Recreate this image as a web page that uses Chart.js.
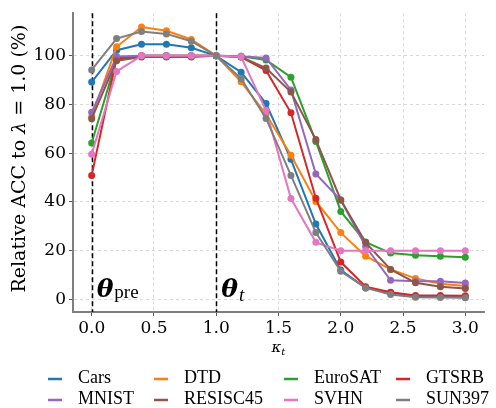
<!DOCTYPE html>
<html><head><meta charset="utf-8">
<script src="https://cdn.jsdelivr.net/npm/chart.js@4/dist/chart.umd.min.js"></script>
<style>html,body{margin:0;padding:0;background:#fff}#wrap{width:496px;height:408px;position:relative}</style>
</head><body><div id="wrap"><canvas id="c" width="496" height="408"></canvas></div>
<script>
const kappa = [0, 0.2, 0.4, 0.6, 0.8, 1.0, 1.2, 1.4, 1.6, 1.8, 2.0, 2.2, 2.4, 2.6, 2.8, 3.0];
const xTicks = [0, 0.5, 1.0, 1.5, 2.0, 2.5, 3.0];
const yTicks = [0, 20, 40, 60, 80, 100];
const cars     = [89.2, 102.3, 104.7, 104.7, 103.3, 100, 93.3, 80.4, 57.5, 30.9, 12.0, 4.7, 2.8, 1.3, 1.2, 0.9];
const dtd      = [75.0, 103.7, 111.8, 110.3, 106.7, 100, 89.3, 76.0, 59.2, 40.2, 27.4, 17.7, 12.3, 8.6, 6.4, 5.5];
const eurosat  = [64.2, 98.5, 100, 100, 100, 100, 99.8, 98.3, 91.2, 64.8, 36.1, 23.5, 19.0, 18.1, 17.7, 17.3];
const gtsrb    = [50.9, 99.0, 100, 100, 100, 100, 99.5, 94.0, 76.6, 41.5, 15.3, 5.2, 2.9, 1.6, 1.6, 1.5];
const mnist    = [76.8, 99.7, 100, 100, 100, 100, 99.8, 99.1, 86.0, 51.5, 40.8, 21.7, 7.8, 7.4, 7.4, 6.7];
const resisc45 = [74.2, 98.0, 99.5, 99.5, 99.5, 100, 99.5, 95.0, 85.1, 65.6, 40.8, 23.3, 12.3, 6.8, 5.2, 4.5];
const svhn     = [59.6, 93.6, 100, 100, 100, 100, 99.6, 77.5, 41.4, 23.4, 20.0, 20.0, 20.0, 20.0, 20.0, 20.0];
const sun397   = [94.2, 107.1, 110.0, 109.0, 106.0, 100, 90.6, 74.3, 50.9, 27.4, 11.5, 4.7, 2.0, 0.9, 0.8, 0.7];

const seriesNames = ['Cars','DTD','EuroSAT','GTSRB','MNIST','RESISC45','SVHN','SUN397'];
const seriesData = [cars, dtd, eurosat, gtsrb, mnist, resisc45, svhn, sun397];
const colors = ['#1f77b4','#ff7f0e','#2ca02c','#d62728','#9467bd','#8c564b','#e377c2','#7f7f7f'];
const legendOrder = ['Cars','DTD','EuroSAT','GTSRB','MNIST','RESISC45','SVHN','SUN397'];

const FONT = "'DejaVu Serif', serif";
const TFONT = "'Liberation Serif', serif";

const datasets = seriesNames.map((n, i) => ({
  label: n,
  data: kappa.map((k, j) => ({x: k, y: seriesData[i][j]})),
  borderColor: colors[i],
  backgroundColor: colors[i],
  borderWidth: 2,
  pointRadius: 3.5,
  pointHoverRadius: 3.5,
  pointBorderWidth: 0,
  tension: 0,
  order: seriesNames.length - i
}));

const deco = {
  id: 'deco',
  beforeDatasetsDraw(chart) {
    const {ctx, chartArea: a, scales: {x}} = chart;
    ctx.save();
    ctx.strokeStyle = '#000';
    ctx.lineWidth = 1.5;
    ctx.setLineDash([5, 3]);
    [0, 1].forEach(v => {
      const px = Math.round(x.getPixelForValue(v)) + 0.5;
      ctx.beginPath(); ctx.moveTo(px, a.top); ctx.lineTo(px, a.bottom); ctx.stroke();
    });
    ctx.restore();
  },
  afterDraw(chart) {
    const {ctx, chartArea: a, scales: {x, y}} = chart;
    ctx.save();
    ctx.fillStyle = '#000';
    ctx.textBaseline = 'alphabetic';
    // theta annotations
    const by = y.getPixelForValue(0) - 2;
    const drawTheta = (v, sub, subItalic) => {
      let px = x.getPixelForValue(v) + 5;
      ctx.font = "italic bold 25px " + FONT;
      ctx.textAlign = 'left';
      ctx.fillText('θ', px, by);
      px += ctx.measureText('θ').width + 1;
      ctx.font = (subItalic ? 'italic ' : '') + "19px " + TFONT;
      ctx.fillText(sub, px, by + (subItalic ? 4 : 1));
    };
    drawTheta(0, 'pre', false);
    drawTheta(1, 't', true);

    // y title
    ctx.save();
    ctx.translate(20, (a.top + a.bottom) / 2 - 4);
    ctx.rotate(-Math.PI / 2);
    const parts = [["Relative ACC to ", ''], ['λ', 'italic '], [' = 1.0 (%)', '']];
    const fs = 19;
    let tw = 0;
    parts.forEach(p => { ctx.font = p[1] + fs + 'px ' + FONT; tw += ctx.measureText(p[0]).width; });
    let cx = -tw / 2;
    ctx.textBaseline = 'middle';
    parts.forEach(p => { ctx.font = p[1] + fs + 'px ' + FONT; ctx.fillText(p[0], cx, 0); cx += ctx.measureText(p[0]).width; });
    ctx.restore();

    // x title
    ctx.textBaseline = 'alphabetic';
    ctx.font = "italic 15px " + FONT;
    const xc = (a.left + a.right) / 2 - 3;
    ctx.fillText('κ', xc - 4, 352);
    const kw = ctx.measureText('κ').width;
    ctx.font = "italic 10px " + FONT;
    ctx.fillText('t', xc - 4 + kw, 355);

    // legend (4 columns x 2 rows)
    const colX = [48, 154, 284, 396];
    const rowY = [378, 399];
    ctx.font = "18px " + TFONT;
    ctx.textBaseline = 'middle';
    legendOrder.forEach((n, k) => {
      const i = seriesNames.indexOf(n);
      const cxx = colX[k % 4], cy = rowY[Math.floor(k / 4)];
      ctx.strokeStyle = colors[i];
      ctx.lineWidth = 2.5;
      ctx.setLineDash([]);
      ctx.beginPath(); ctx.moveTo(cxx, cy + 1); ctx.lineTo(cxx + 14, cy + 1); ctx.stroke();
      ctx.fillStyle = '#000';
      ctx.fillText(n, cxx + 30, cy);
    });
    ctx.restore();
  }
};

new Chart(document.getElementById('c'), {
  type: 'line',
  data: {datasets},
  plugins: [deco],
  options: {
    responsive: false,
    animation: false,
    events: [],
    layout: {padding: {top: 7, right: 12, left: 0, bottom: 0}},
    plugins: {legend: {display: false}, tooltip: {enabled: false}},
    scales: {
      x: {
        type: 'linear',
        min: -0.15, max: 3.15,
        afterBuildTicks: s => { s.ticks = xTicks.map(v => ({value: v})); },
        afterFit: s => { s.height = 96; },
        ticks: {color: '#000', font: {family: FONT, size: 17}, padding: 2, maxRotation: 0, autoSkip: false,
          callback: v => Number(v).toFixed(1)},
        grid: {color: '#d0d0d0', lineWidth: 0.8, tickColor: '#555', tickLength: 4, tickWidth: 1},
        border: {display: true, color: '#7f7f7f', width: 2, dash: [3, 3]}
      },
      y: {
        type: 'linear',
        min: -5.2, max: 117.5,
        afterBuildTicks: s => { s.ticks = yTicks.map(v => ({value: v})); },
        afterFit: s => { s.width = 73; },
        ticks: {color: '#000', font: {family: FONT, size: 17}, padding: 3, autoSkip: false,
          callback: v => String(v)},
        grid: {color: '#d0d0d0', lineWidth: 0.8, tickColor: '#555', tickLength: 4, tickWidth: 1},
        border: {display: true, color: '#7f7f7f', width: 2, dash: [3, 3]}
      }
    }
  }
});
</script></body></html>
